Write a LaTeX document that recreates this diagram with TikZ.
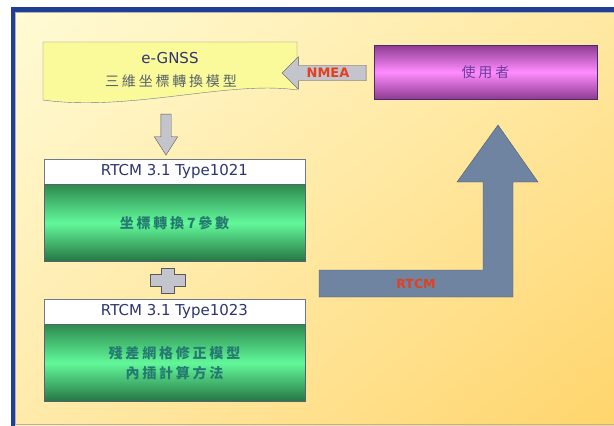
\documentclass[tikz,border=0pt]{standalone}
\usepackage{fontspec}
\setmainfont{DejaVu Sans}
\newfontfamily\cjk[LetterSpace=20]{Noto Sans CJK TC}
\usepackage{tikz}
\usetikzlibrary{shapes.arrows,shadings,positioning}

\definecolor{frameblue}{HTML}{213E97}
\definecolor{bgA}{HTML}{FFFBD4}
\definecolor{bgB}{HTML}{FFE8A2}
\definecolor{bgC}{HTML}{FFEAAA}
\definecolor{bgD}{HTML}{FFD56C}
\definecolor{docfill}{HTML}{FAFA9A}
\definecolor{edgegrey}{HTML}{6E7A8A}
\definecolor{arrowgrey}{HTML}{C4C4CC}
\definecolor{slate}{HTML}{6F84A1}
\definecolor{slateedge}{HTML}{4C5C76}
\definecolor{navytext}{HTML}{2E3470}
\definecolor{tealtext}{HTML}{247A70}
\definecolor{greytext}{HTML}{56616A}
\definecolor{redtext}{HTML}{E2401E}
\definecolor{violettext}{HTML}{6B3C9C}
\definecolor{greenA}{HTML}{2C8A4E}
\definecolor{greenB}{HTML}{62F89A}
\definecolor{purpleA}{HTML}{8E3B90}
\definecolor{purpleB}{HTML}{FF8CFF}

\begin{document}
\begin{tikzpicture}[
    x=1pt, y=-1pt,
    header/.style={draw=edgegrey, fill=white, minimum width=261pt, minimum height=25pt, inner sep=0pt,
        font=\fontsize{15}{18}\selectfont, text=navytext},
    panel/.style={draw=edgegrey!80!black, top color=greenA, bottom color=greenA!85!black, middle color=greenB,
        minimum width=261pt, minimum height=77pt, inner sep=0pt, align=center,
        font=\cjk\bfseries\fontsize{14}{20}\selectfont, text=tealtext},
    userbox/.style={draw=violettext!70!black, top color=purpleA, bottom color=purpleA, middle color=purpleB,
        minimum width=223pt, minimum height=54pt, inner sep=0pt, font=\cjk\fontsize{14}{16}\selectfont, text=violettext},
    greyarrow/.style={single arrow, draw=gray!70!black, fill=arrowgrey, inner xsep=0pt},
    bigarrow/.style={draw=slateedge, fill=slate, line join=miter},
    redlabel/.style={text=redtext, inner sep=0pt, font=\bfseries\fontsize{12.5}{14}\selectfont}
]
    \useasboundingbox (0,0) rectangle (614,426);
    \clip (0,0) rectangle (614,426);

    % background and frame
    \shade[upper left=bgA, upper right=bgB, lower left=bgC, lower right=bgD] (15,12) rectangle (614,426);
    \draw[frameblue, line width=4.5pt] (13,9.5) rectangle (650,428);
    \draw[color=gray!60, line width=1.2pt] (15.8,12.3) rectangle (650,424.5);

    % e-GNSS document
    \draw[draw=edgegrey, fill=docfill] (43,42) -- (297,42) -- (297,90)
        .. controls (230,80) and (130,112) .. (43,100) -- cycle;
    \node[text=navytext, font=\fontsize{15}{18}\selectfont] (gnss) at (170,58) {e-GNSS};
    \node[text=greytext, font=\cjk\fontsize{14}{16}\selectfont] (gnsscn) at (171,81) {三維坐標轉換模型};

    % user
    \node[userbox] (user) at (485.5,72) {使用者};
    \node[greyarrow, inner ysep=2.8pt, shape border rotate=180, minimum height=84pt, minimum width=32pt,
        single arrow head extend=8.5pt, single arrow tip angle=90,
        font=\bfseries\fontsize{13}{15}\selectfont, text=redtext] (nmea) at (328,73) {NMEA};

    \node[greyarrow, inner sep=5pt, shape border rotate=270, minimum height=41pt, minimum width=23pt,
        single arrow head extend=6.5pt, single arrow tip angle=65] (down) at (166,130.5) {};

    % RTCM messages
    \node[header] (t1021) at (174.5,171.5) {RTCM 3.1 Type1021};
    \node[panel, below=0pt of t1021] (p1021) {坐標轉換7參數};

    \coordinate (plus) at (168,280.5);
    \draw[draw=gray!70!black, fill=arrowgrey] (plus) ++(-6.5,-12.5) -- ++(13,0) -- ++(0,6.5) -- ++(11,0)
        -- ++(0,12) -- ++(-11,0) -- ++(0,6.5) -- ++(-13,0) -- ++(0,-6.5) -- ++(-11,0) -- ++(0,-12) -- ++(11,0) -- cycle;

    \node[header] (t1023) at (174.5,311.5) {RTCM 3.1 Type1023};
    \node[panel, below=0pt of t1023] (p1023) {殘差網格修正模型\\內插計算方法};

    % RTCM to user
    \draw[bigarrow] (319,270) -- (483,270) -- (483,182) -- (457,182) -- (498,125) -- (538,182)
        -- (513,182) -- (513,297) -- (319,297) -- cycle;
    \node[redlabel] (rtcm) at (416,284) {RTCM};
\end{tikzpicture}
\end{document}
